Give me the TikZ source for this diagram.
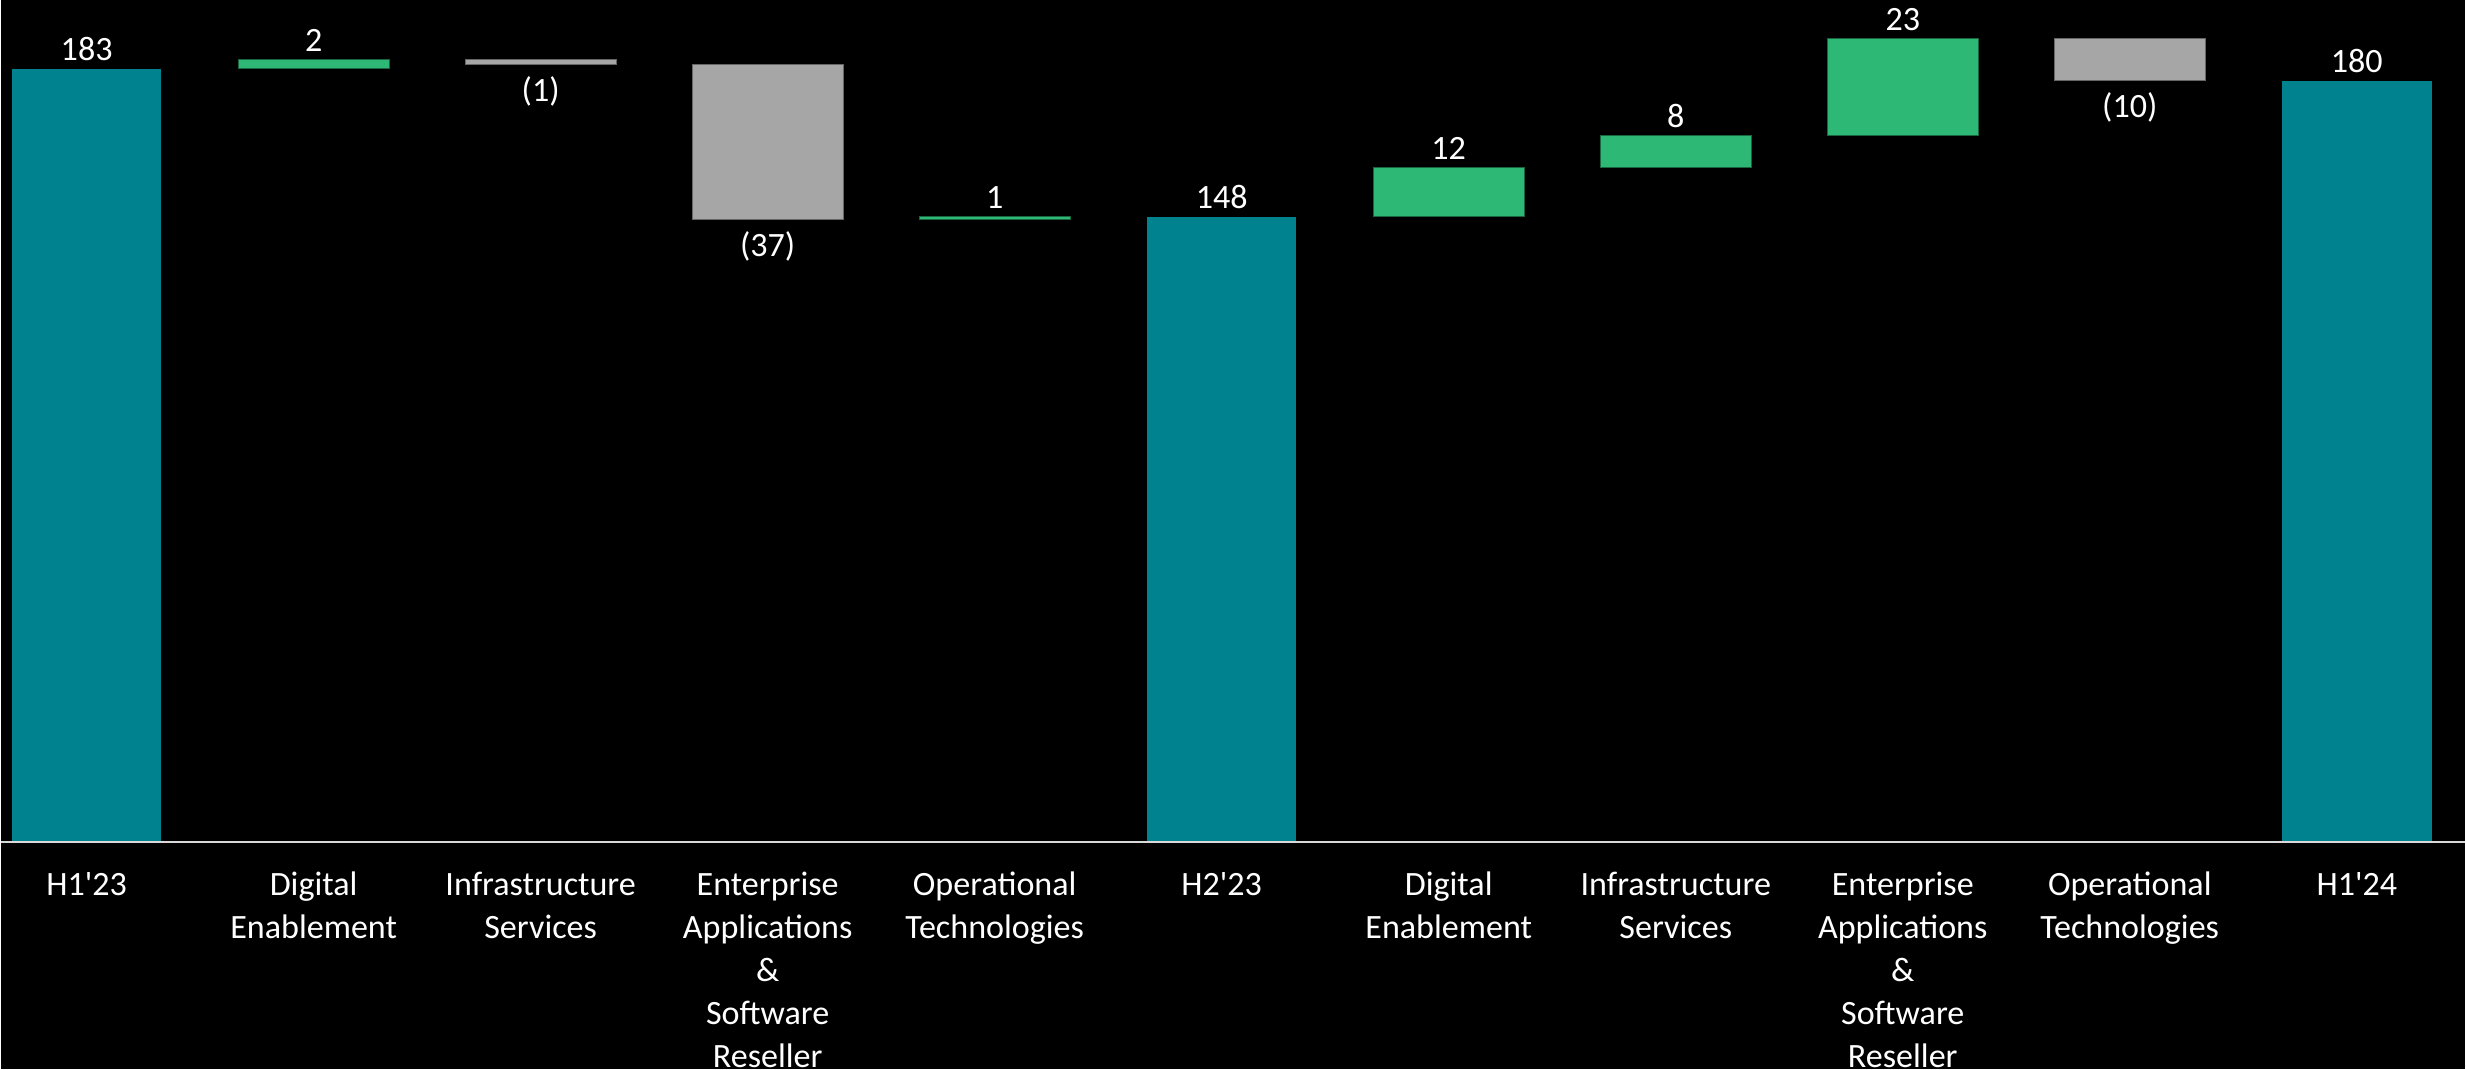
\documentclass[tikz,border=0pt]{standalone}
\usepackage{fontspec}
\setmainfont{Carlito}
\definecolor{totalcol}{HTML}{00838F}
\definecolor{upcol}{HTML}{2DB875}
\definecolor{downcol}{HTML}{A6A6A6}
\tikzset{
	totalbox/.style={fill=totalcol},
	upbox/.style={fill=upcol, draw=upcol!55!black, line width=0.1mm},
	downbox/.style={fill=downcol, draw=black!60, line width=0.1mm},
	lbl/.style={text=white, inner sep=0pt, font=\fontsize{9.7}{12.2}\selectfont},
}
\begin{document}
\begin{tikzpicture}[x=0.1mm,y=0.1mm]
		\fill [black] (0,0) rectangle (2466,1070);
		\begin{scope}[shift={(85.7,227.3)}, y=0.42295mm]
			\foreach \i/\lo/\hi/\s in {0/0/183/totalbox, 1/183.1/185.1/upbox, 2/184/185.1/downbox, 3/147.4/184/downbox, 4/147.4/148/upbox, 5/0/148/totalbox, 6/148/159.6/upbox, 7/159.6/167.3/upbox, 8/167.3/190.1/upbox, 9/180.2/190.1/downbox, 10/0/180.2/totalbox} {
				\draw [\s] (227.2*\i-75.5,\lo) rectangle (227.2*\i+75.5,\hi);
			}
			\foreach \i/\y/\t in {0/183/183, 1/185.1/2, 4/148/1, 5/148/148, 6/159.6/12, 7/167.3/8, 8/190.1/23, 10/180.2/180} {
				\node [lbl, anchor=base, yshift=0.8mm] (val\i) at (227.2*\i,\y) {\t};
			}
			\foreach \i/\y/\t in {2/184/(1), 3/147.4/(37), 9/180.2/(10)} {
				\node [lbl, anchor=base, yshift=-3.74mm] (val\i) at (227.2*\i,\y) {\t};
			}
		\end{scope}
		\draw [line width=0.2mm, black!15] (0,227.3) -- (2466,227.3);
		\foreach \i/\t in {0/{H1\textquotesingle 23}, 1/{Digital\\Enablement}, 2/{Infrastructure\\Services}, 3/{Enterprise\\Applications\\\&\\Software\\Reseller}, 4/{Operational\\Technologies}, 5/{H2\textquotesingle 23}, 6/{Digital\\Enablement}, 7/{Infrastructure\\Services}, 8/{Enterprise\\Applications\\\&\\Software\\Reseller}, 9/{Operational\\Technologies}, 10/{H1\textquotesingle 24}} {
			\node [lbl, anchor=north, align=center, execute at begin node=\setlength{\baselineskip}{4.3mm}] (cat\i) at (85.7+227.2*\i,204.1) {\strut\t};
		}
\end{tikzpicture}
\end{document}
